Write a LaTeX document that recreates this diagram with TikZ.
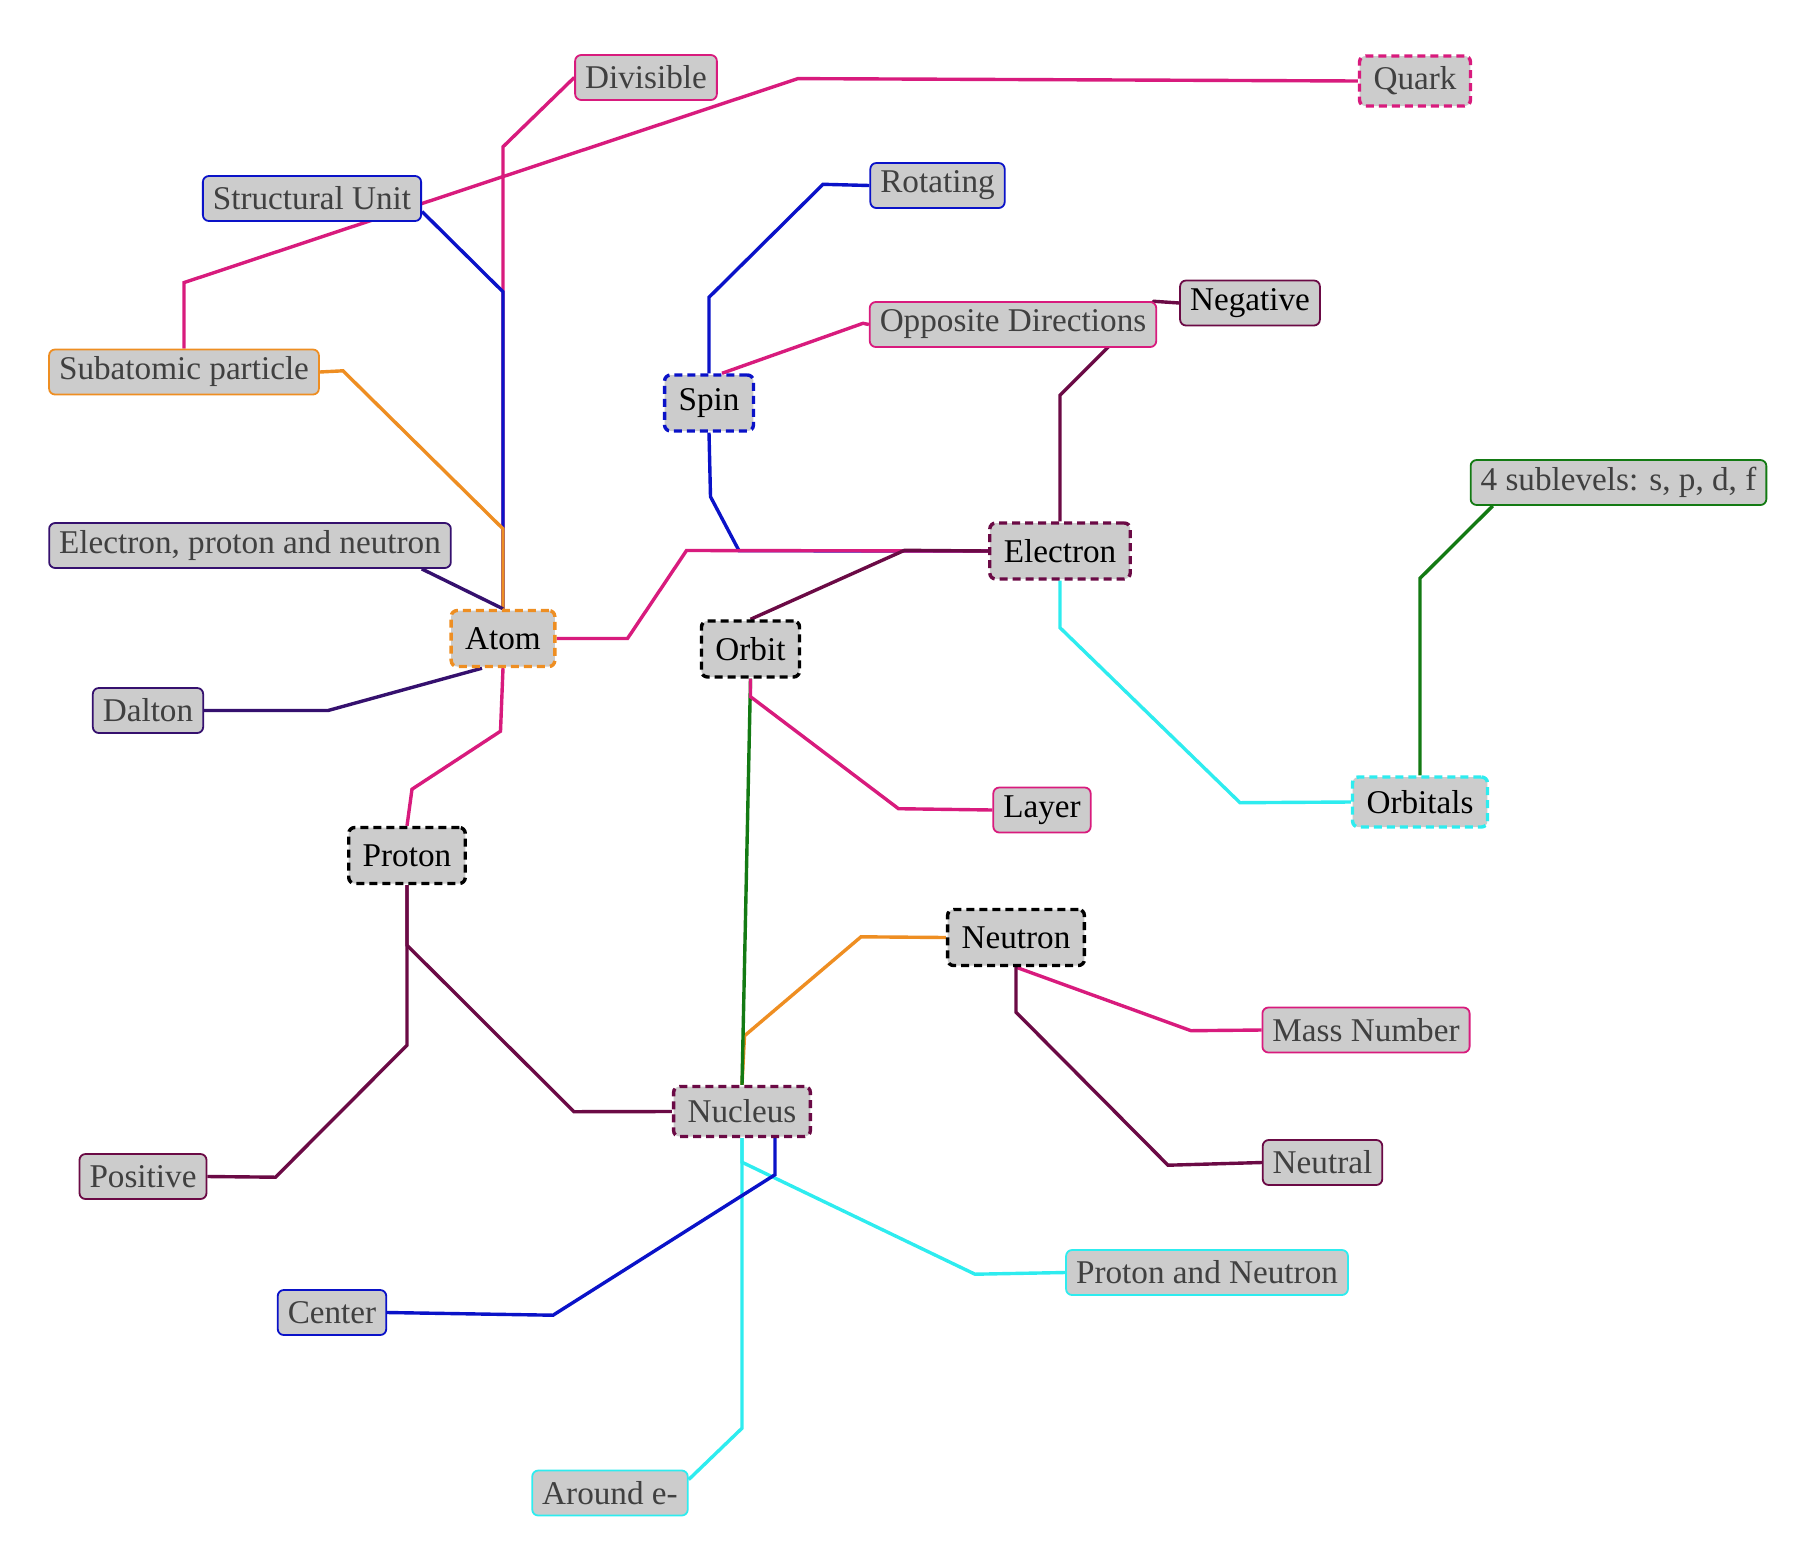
\documentclass[tikz,border=0pt]{standalone}
\usepackage{fontspec}
\setmainfont{Liberation Serif}
\usetikzlibrary{calc,backgrounds}

\definecolor{cpink}{HTML}{D81B7D}
\definecolor{cblue}{HTML}{0A12C8}
\definecolor{corange}{HTML}{EE8E22}
\definecolor{cindigo}{HTML}{35106E}
\definecolor{cmaroon}{HTML}{6B0A45}
\definecolor{cgreen}{HTML}{137A13}
\definecolor{ccyan}{HTML}{2EECEF}
\definecolor{boxfill}{HTML}{CCCCCC}
\definecolor{greytext}{HTML}{404040}

\tikzset{
  box/.style={rectangle, rounded corners=3pt, fill=boxfill,
    font=\fontsize{16.6}{19}\selectfont, inner ysep=0pt},
  leaf/.style={box, draw=#1, line width=0.9pt, text=greytext,
    minimum height=22.5pt, inner xsep=5pt},
  hub/.style={box, draw=#1, line width=1.7pt, dash pattern=on 4pt off 2.5pt,
    minimum height=28pt, inner xsep=7pt},
  link/.style={draw=#1, line width=1.7pt}
}

\begin{document}
\begin{tikzpicture}[x=0.5pt,y=-0.5pt]
    \useasboundingbox (0,0) rectangle (1805,1559);

    % Main concepts
    \node[hub=corange] (atom) at (503,638.5) {Atom};
    \node[hub=cblue] (spin) at (709,403) {Spin};
    \node[hub=black] (orbit) at (750.5,649) {Orbit};
    \node[hub=cmaroon] (electron) at (1060,551) {Electron};
    \node[hub=cpink, text=greytext, minimum height=25pt] (quark) at (1415,81) {Quark};
    \node[hub=ccyan, minimum height=25pt] (orbitals) at (1420,802) {Orbitals};
    \node[hub=black] (proton) at (407,855.5) {Proton};
    \node[hub=black] (neutron) at (1016,937.5) {Neutron};
    \node[hub=cmaroon, text=greytext, minimum height=25pt] (nucleus) at (742,1111.5) {Nucleus};

    % Details
    \node[leaf=cpink] (divisible) at (646,77.5) {Divisible};
    \node[leaf=cblue] (structural) at (312,198.5) {Structural Unit};
    \node[leaf=cblue] (rotating) at (937.5,185.5) {Rotating};
    \node[leaf=cmaroon, text=black] (negative) at (1250,303) {Negative};
    \node[leaf=cpink] (opposite) at (1013,324.5) {Opposite Directions};
    \node[leaf=corange] (subatomic) at (184,372) {Subatomic particle};
    \node[leaf=cgreen] (sublevels) at (1618.5,482.5) {4 sublevels: s, p, d, f};
    \node[leaf=cindigo] (epn) at (250,545.5) {Electron, proton and neutron};
    \node[leaf=cindigo] (dalton) at (148,710.5) {Dalton};
    \node[leaf=cpink, text=black] (layer) at (1042,810) {Layer};
    \node[leaf=cpink] (mass) at (1366,1030) {Mass Number};
    \node[leaf=cmaroon] (neutral) at (1322.5,1162.5) {Neutral};
    \node[leaf=cmaroon] (positive) at (143,1176.5) {Positive};
    \node[leaf=ccyan] (pn) at (1207,1272.5) {Proton and Neutron};
    \node[leaf=cblue] (center) at (332,1312.5) {Center};
    \node[leaf=ccyan] (arounde) at (610,1493) {Around e-};

    \begin{scope}[on background layer]
    % Atom
    \draw[link=cpink] (atom.north) -- ++(0,-462) -- (divisible.west);
    \draw[link=cblue] (atom.north) -- ++(0,-317) -- ($(structural.east)+(0,13)$);
    \draw[link=corange] (atom.north) -- ++(0,-80) -- ++(-160,-158) -- (subatomic.east);
    \draw[link=cpink] (subatomic.north) -- ++(0,-66) -- ++(614,-204) -- (quark.west);
    \draw[link=cindigo] ($(epn.south east)+(-30,0)$) -- (atom.north);
    \draw[link=cindigo] (dalton.east) -- ++(124,0) -- ($(atom.south)+(-21,0)$);
    \draw[link=cpink] (atom.south) -- ++(-2.5,63) -- ++(-88.5,58) -- (proton.north);

    % Spin and electron
    \draw[link=cblue] (spin.south) -- ++(1.5,64) -- ++(28.5,54) -- (electron.west);
    \draw[link=cpink] (atom.east) -- ++(71,0) -- ++(59,-88) -- (electron.west);
    \draw[link=cmaroon] (orbit.north) -- ++(154,-69) -- (electron.west);
    \draw[link=cblue] (spin.north) -- ++(0,-76) -- ++(114,-113) -- (rotating.west);
    \draw[link=cpink] ($(spin.north)+(13,0)$) -- ++(141,-50) -- (opposite.west);
    \draw[link=cmaroon] (electron.north) -- ++(0,-126) -- ++(94,-94) -- (negative.west);
    \draw[link=ccyan] (electron.south) -- ++(0,47) -- ++(180,175) -- (orbitals.west);
    \draw[link=cgreen] (orbitals.north) -- ++(0,-197) -- ($(sublevels.south west)+(23,0)$);

    % Orbit and nucleus
    \draw[link=corange] (nucleus.north) -- ++(2.5,-49) -- ++(116.5,-99) -- (neutron.west);
    \draw[link=cgreen] (orbit.south) -- (nucleus.north);
    \draw[link=cpink] (orbit.south) -- ++(0,18) -- ++(148,112) -- (layer.west);
    \draw[link=cmaroon] (proton.south) -- ++(0,160) -- ++(-131.5,132) -- (positive.east);
    \draw[link=cmaroon] (proton.south) -- ++(0,60) -- ++(167,166.5) -- (nucleus.west);
    \draw[link=ccyan] (nucleus.south) -- ++(0,290) -- ($(arounde.north east)+(0,10)$);
    \draw[link=ccyan] (nucleus.south) -- ++(0,24) -- ++(233,112) -- (pn.west);
    \draw[link=cblue] ($(nucleus.south)+(33,0)$) -- ++(0,36.5) -- ++(-222,140.5) -- (center.east);
    \draw[link=cpink] (neutron.south) -- ++(175,63.5) -- (mass.west);
    \draw[link=cmaroon] (neutron.south) -- ++(0,45) -- ++(152,153) -- (neutral.west);
    \end{scope}
\end{tikzpicture}
\end{document}
